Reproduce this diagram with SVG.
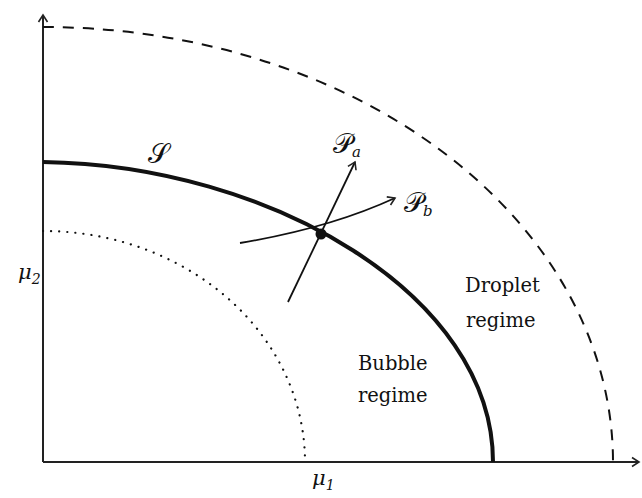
<svg xmlns="http://www.w3.org/2000/svg" width="642" height="498" viewBox="0 0 642 498">
<style>
.ax{fill:none;stroke:#222;stroke-width:2}
.t{font-family:'DejaVu Serif',serif;font-size:19.5px;fill:#111}
.m{font-family:'DejaVu Serif','DejaVu Sans','Noto Sans CJK SC',serif;font-size:27px;fill:#111}
.i{font-family:'DejaVu Serif',serif;font-style:italic;font-size:21px;fill:#111}
.s{font-family:'DejaVu Serif',serif;font-style:italic;font-size:15px;fill:#111}
.n{font-family:'DejaVu Serif',serif;font-size:14px;fill:#111}
</style>
<defs>
<marker id="ah" viewBox="-10 -6 12 12" markerWidth="12" markerHeight="12" refX="0" refY="0" orient="auto" markerUnits="userSpaceOnUse">
<path d="M-7,-4.5 L0,0 L-7,4.5" fill="none" stroke="#222" stroke-width="1.6"/>
</marker>
</defs>
<g id="axes">
<path class="ax" d="M43,462 V15" marker-end="url(#ah)"/>
<path class="ax" d="M43,462 H639" marker-end="url(#ah)"/>
</g>
<g id="outer-dashed">
<path d="M43,27 A570,435 0 0 1 613,462" fill="none" stroke="#111" stroke-width="2" stroke-dasharray="11,9"/>
</g>
<g id="inner-dotted">
<path d="M43,231 A262,231 0 0 1 305,462" fill="none" stroke="#111" stroke-width="2.2" stroke-dasharray="0.1,8" stroke-linecap="round"/>
</g>
<g id="S-curve">
<path d="M43,162 C270,165 493,295 493,462" fill="none" stroke="#111" stroke-width="4"/>
<text class="m" x="148" y="163">𝒮</text>
</g>
<g id="connectors">
<path d="M288,302 L355,162" fill="none" stroke="#111" stroke-width="1.8" marker-end="url(#ah)"/>
<path d="M240,243 Q330,228 395,198" fill="none" stroke="#111" stroke-width="1.8" marker-end="url(#ah)"/>
</g>
<g id="point">
<circle cx="321" cy="234" r="5.5" fill="#111"/>
</g>
<g id="labels">
<text class="m" x="333" y="153">𝒫<tspan class="s" dy="4">a</tspan></text>
<text class="m" x="404" y="212">𝒫<tspan class="s" dy="4">b</tspan></text>
<text class="i" x="18" y="279">μ<tspan class="n" dy="5">2</tspan></text>
<text class="i" x="312" y="485">μ<tspan class="n" dy="5">1</tspan></text>
<text class="t" x="465" y="292">Droplet</text>
<text class="t" x="466" y="327">regime</text>
<text class="t" x="358" y="370">Bubble</text>
<text class="t" x="358" y="402">regime</text>
</g>
</svg>
